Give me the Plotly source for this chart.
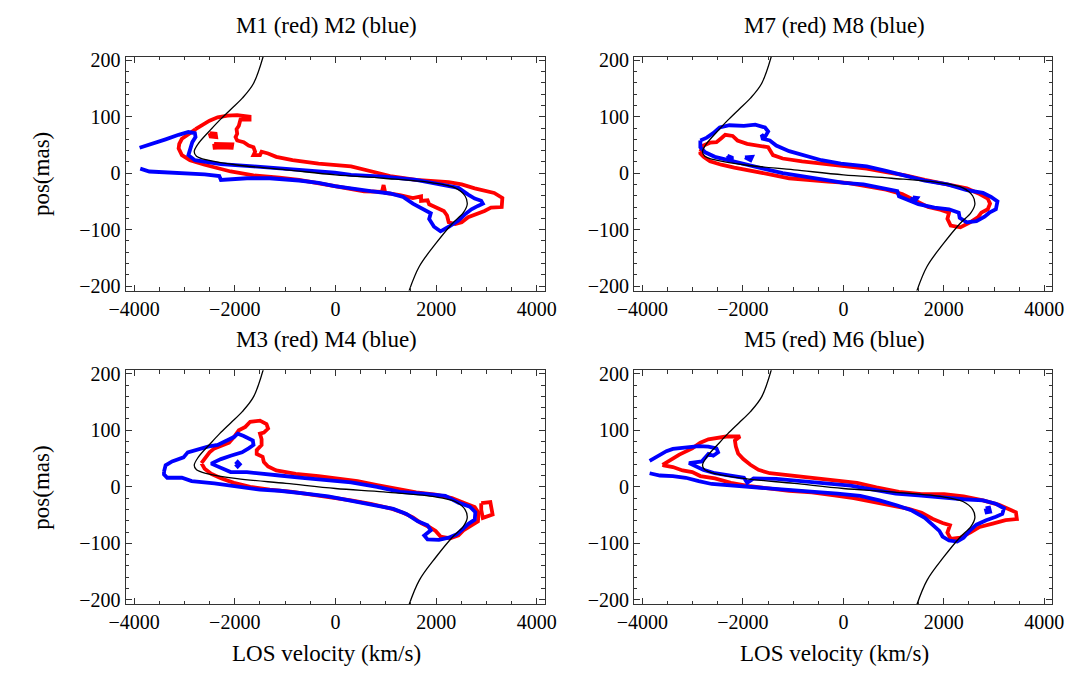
import plotly.graph_objects as go

# ---------------- model curve (black), same in every panel ----------------
curve_v = [-1435, -1628, -1850, -2081, -2300, -2468, -2727, -2805, -2760, -2533, -1952, -982,
           0, 956, 1926, 2378, 2572, 2617, 2540, 2313, 1990, 1667, 1460]
curve_pos = [207, 159, 133, 113, 94, 78, 52, 38, 30, 23, 14.5, 6,
             -3, -9, -17, -26, -40, -55, -70, -90, -125, -165, -209]

# ---------------- panel 1: M1 (red, closed) / M2 (blue, open) ----------------
m1_v = [-2779, -2662, -2501, -2339, -2145, -1952, -1706, -1706, -1887, -1919, -1964, -1952, -1984,
        -1952, -1822, -1725, -1628, -1596, -1628, -1499, -1467, -1338, -1176, -853, -336, 310, 827,
        1086, 1603, 2249, 2507, 2766, 3153, 3315, 3302, 3089, 2960, 2766, 2636, 2507, 2378, 2249,
        2216, 2152, 1990, 1861, 1829, 1700, 1700, 1538, 1279, 989, 956, 924, 569, 246, -13, -465,
        -724, -1111, -1628, -2081, -2404, -2598, -2889, -3050, -3115, -3102, -3050, -2921, -2824]
m1_pos = [78, 84, 93, 99, 102, 103, 100, 95, 95, 84, 78, 70, 64,
          58, 55, 49, 46, 38, 32, 32, 38, 35, 29, 23, 17, 12, 1,
          -5, -12, -16, -20, -27, -35, -44, -60, -61, -67, -73, -78, -87, -90, -87,
          -75, -67, -61, -55, -48, -49, -41, -44, -39, -35, -21, -33, -32, -27, -23, -16,
          -12, -8, -4, 3, 10, 15, 23, 32, 44, 52, 61, 68, 75]
m1_isl1_v = [-2500, -2380, -2370, -2480]
m1_isl1_pos = [71, 70, 64, 65]
m1_isl2_v = [-2410, -2250, -2050, -2060, -2250, -2400]
m1_isl2_pos = [52, 51, 51, 45, 46, 45]

m2_v = [-3890, -3632, -3373, -3115, -2921, -2792, -2779, -2843, -2889, -2921, -2792, -2533, -2275,
        -1628, -982, -336, -13, 310, 956, 1603, 2120, 2443, 2636, 2766, 2895, 2927, 2830, 2701,
        2572, 2443, 2249, 2087, 1958, 1861, 1893, 1732, 1538, 1344, 1086, 698, 310, -13, -336,
        -724, -1305, -1758, -2275, -2307, -2598, -3244, -3696, -3877]
m2_pos = [45, 52, 60, 68, 73, 71, 64, 55, 44, 32, 23, 20, 16,
          12, 8, 3, 1, -3, -6, -12, -20, -26, -38, -45, -49, -54, -58, -64,
          -73, -84, -95, -103, -95, -81, -71, -64, -54, -42, -36, -32, -28, -23, -17,
          -13, -9, -9, -12, -5, -2, 0, 3, 8]

# ---------------- panel 2: M7 (red) / M8 (blue) ----------------
m7_v = [-2848, -2784, -2656, -2527, -2431, -2353, -2205, -2109, -1916, -1723, -1498, -1402, -1209,
        -823, -437, 77, 463, 849, 1235, 1620, 2070, 2456, 2713, 2874, 2919, 2874, 2746, 2681,
        2521, 2328, 2135, 2070, 2103, 1942, 1685, 1427, 1170, 849, 463, 77, -309, -694, -1080,
        -1466, -1852, -2173, -2431, -2656, -2784, -2848]
m7_pos = [38, 49, 54, 55, 62, 68, 66, 58, 52, 49, 46, 32, 26,
          21, 17, 11, 8, 2, -4, -12, -20, -27, -37, -45, -54, -64, -70, -78,
          -87, -96, -93, -81, -70, -65, -60, -49, -37, -29, -23, -17, -15, -12, -9,
          -2, 4, 10, 15, 21, 29, 35]

m8_v = [-2848, -2720, -2591, -2463, -2270, -1980, -1755, -1562, -1498, -1562, -1627, -1607, -1466,
        -1337, -1080, -759, -437, -51, 463, 849, 1235, 1620, 2070, 2456, 2778, 2939, 3067, 3035,
        2906, 2810, 2649, 2456, 2315, 2296, 2103, 1813, 1492, 1299, 1106, 1074, 720, 399, 13,
        -373, -823, -1209, -1595, -1980, -2302, -2559, -2752, -2848]
m8_pos = [58, 63, 71, 81, 85, 84, 86, 81, 74, 64, 68, 61, 58,
          49, 39, 31, 23, 17, 12, 4, -4, -13, -20, -30, -35, -42, -50, -64,
          -70, -77, -85, -87, -79, -70, -64, -61, -55, -48, -41, -32, -26, -20, -17,
          -12, -5, 0, 8, 16, 23, 29, 37, 46]
m8_isl1_v = [-2310, -2200, -2260]
m8_isl1_pos = [31, 27, 24]
m8_isl2_v = [-1960, -1820, -1850]
m8_isl2_pos = [28, 29, 23]
m8_isl3_v = [1380, 1470, 1440, 1360]
m8_isl3_pos = [-43, -44, -48, -47]

# ---------------- panel 3: M3 (red) / M4 (blue) ----------------
m3_v = [-2662, -2565, -2501, -2404, -2242, -2113, -2016, -1919, -1790, -1693, -1499, -1370, -1338,
        -1422, -1499, -1467, -1467, -1564, -1564, -1447, -1422, -1338, -1176, -788, -336, 52, 439,
        827, 1215, 1603, 1990, 2313, 2572, 2766, 2843, 2830, 2701, 2540, 2443, 2281, 2087, 1990,
        1861, 1700, 1538, 1344, 1086, 698, 310, -78, -465, -853, -1305, -1693, -2016, -2275,
        -2468, -2598]
m3_pos = [42, 52, 61, 68, 73, 78, 88, 100, 106, 115, 117, 111, 103,
          96, 94, 84, 74, 65, 58, 53, 44, 36, 29, 23, 19, 15, 10,
          3, -4, -10, -14, -20, -29, -36, -46, -61, -68, -77, -86, -91, -88, -78,
          -71, -64, -54, -46, -38, -30, -24, -19, -13, -9, -5, 0, 7, 15,
          23, 32]
m3_isl_v = [2895, 3076, 3121, 2927, 2895]
m3_isl_pos = [-29, -27, -49, -55, -41]

m4_v = [-3405, -3373, -3244, -3018, -2934, -2792, -2533, -2339, -2145, -2016, -1939, -1822, -1641,
        -1628, -1725, -1855, -2081, -2275, -2468, -2307, -2081, -1758, -1499, -1111, -659, -207,
        310, 827, 1279, 1732, 2184, 2443, 2669, 2779, 2766, 2649, 2540, 2410, 2249, 2055, 1829,
        1764, 1893, 1829, 1635, 1409, 1150, 763, 310, -142, -595, -1111, -1499, -1952, -2404,
        -2856, -3050, -3341, -3405]
m4_pos = [27, 38, 45, 52, 61, 65, 71, 74, 82, 88, 94, 90, 82,
          74, 68, 61, 55, 49, 41, 34, 26, 26, 23, 20, 16, 12,
          8, 0, -9, -12, -16, -28, -35, -45, -58, -65, -73, -84, -90, -94, -93,
          -86, -77, -68, -61, -48, -39, -32, -24, -17, -12, -7, -5, 1, 6,
          10, 16, 16, 22]
m4_isl_v = [-1984, -1942, -1900, -1942]
m4_isl_pos = [40, 44, 40, 36]

# ---------------- panel 4: M5 (red) / M6 (blue, open) ----------------
m5_v = [-3601, -3427, -3266, -3009, -2848, -2688, -2495, -2334, -2173, -2058, -2160, -2141, -2096,
        -1993, -1852, -1691, -1466, -1080, -630, -180, 270, 656, 1106, 1556, 2006, 2392, 2778,
        3099, 3292, 3434, 3453, 3228, 2971, 2713, 2521, 2328, 2135, 2070, 2122, 1974, 1781,
        1556, 1299, 977, 592, 206, -180, -630, -1080, -1466, -1852, -2238, -2559, -2848, -3009,
        -3202, -3395, -3575]
m5_pos = [39, 49, 57, 68, 78, 84, 87, 89, 89, 89, 82, 71, 59,
          49, 39, 30, 24, 20, 16, 12, 7, -1, -9, -13, -13, -17, -24,
          -32, -39, -45, -57, -59, -65, -71, -81, -90, -92, -81, -68, -64, -57,
          -46, -39, -33, -27, -20, -15, -10, -7, -3, 1, 7, 15, 19, 26,
          29, 35, 38]

m6_v = [-3858, -3717, -3524, -3395, -3138, -2881, -2688, -2527, -2495, -2591, -2688, -2752, -2816,
        -3074, -2913, -2784, -2559, -2302, -1980, -1916, -1788, -1337, -823, -309, 141, 592,
        1042, 1492, 1942, 2392, 2778, 3035, 3196, 3164, 3035, 2842, 2649, 2521, 2392, 2263,
        2103, 1974, 1910, 1813, 1620, 1363, 1074, 720, 334, -116, -566, -1016, -1466, -1852,
        -2238, -2623, -2881, -3138, -3395, -3652, -3858]
m6_pos = [46, 53, 63, 67, 70, 72, 71, 68, 61, 55, 58, 52, 45,
          42, 36, 30, 24, 20, 16, 7, 15, 14, 10, 7, 2, -5,
          -12, -15, -19, -22, -24, -30, -38, -48, -53, -59, -67, -77, -90, -97,
          -95, -88, -78, -70, -55, -42, -33, -24, -16, -12, -9, -6, -3, 1,
          2, 5, 10, 16, 19, 20, 24]
m6_isl_v = [2830, 2900, 2920, 2850]
m6_isl_pos = [-38, -37, -44, -45]

titles = ["M1 (red) M2 (blue)", "M7 (red) M8 (blue)", "M3 (red) M4 (blue)", "M5 (red) M6 (blue)"]
x_ticks = [-4000, -2000, 0, 2000, 4000]
y_ticks = [-200, -100, 0, 100, 200]
x_label = "LOS velocity (km/s)"
y_label = "pos(mas)"

RED = "#ff0000"
BLUE = "#0000ff"
SERIF = "'Liberation Serif', 'Times New Roman', 'DejaVu Serif', serif"
FRAME = "#333333"


def closed(a):
    return list(a) + [a[0]]


panels = [
    dict(red=[(m1_v, m1_pos, True), (m1_isl1_v, m1_isl1_pos, True), (m1_isl2_v, m1_isl2_pos, True)],
         blue=[(m2_v, m2_pos, False)]),
    dict(red=[(m7_v, m7_pos, True)],
         blue=[(m8_v, m8_pos, True), (m8_isl1_v, m8_isl1_pos, True), (m8_isl2_v, m8_isl2_pos, True),
               (m8_isl3_v, m8_isl3_pos, True)]),
    dict(red=[(m3_v, m3_pos, True), (m3_isl_v, m3_isl_pos, True)],
         blue=[(m4_v, m4_pos, True), (m4_isl_v, m4_isl_pos, True)]),
    dict(red=[(m5_v, m5_pos, True)],
         blue=[(m6_v, m6_pos, False), (m6_isl_v, m6_isl_pos, True)]),
]

W, H = 1078, 677
xdom = [(111.5 / W, 542.5 / W), (634 / W, 1064 / W)]
ydom = [(1 - 288.5 / H, 1 - 50 / H), (1 - 609 / H, 1 - 370 / H)]
title_x = [318 / W, 840 / W]
title_y = [1 - 18 / H, 1 - 338 / H]

fig = go.Figure()
layout = dict(width=W, height=H, margin=dict(l=0, r=0, t=0, b=0), autosize=False,
              paper_bgcolor="white", plot_bgcolor="white", showlegend=False,
              font=dict(family=SERIF, color="black"))
annotations = []

for i, p in enumerate(panels):
    row, col = divmod(i, 2)
    n = "" if i == 0 else str(i + 1)
    xa, ya = "x" + n, "y" + n
    for color, key in ((RED, "red"), (BLUE, "blue")):
        for v, pos, is_closed in p[key]:
            xs = closed(v) if is_closed else list(v)
            ys = closed(pos) if is_closed else list(pos)
            fig.add_trace(go.Scatter(x=xs, y=ys, mode="lines", xaxis=xa, yaxis=ya,
                                     line=dict(color=color, width=3.8), hoverinfo="skip"))
    fig.add_trace(go.Scatter(x=curve_v, y=curve_pos, mode="lines", xaxis=xa, yaxis=ya,
                             line=dict(color="black", width=1.3, shape="spline", smoothing=1.0),
                             hoverinfo="skip"))
    common = dict(showline=True, linecolor=FRAME, linewidth=1, mirror="allticks",
                  ticks="inside", tickcolor=FRAME, showgrid=False, zeroline=False,
                  tickfont=dict(family=SERIF, size=20, color="black"))
    layout["xaxis" + n] = dict(domain=xdom[col], range=[-4170, 4160], anchor=ya,
                               tickvals=x_ticks, ticktext=[str(t).replace("-", "\u2212") for t in x_ticks],
                               ticklen=6, minor=dict(dtick=500, tick0=0, ticklen=3.5, ticks="inside",
                                                     tickcolor=FRAME, showgrid=False),
                               **common)
    layout["yaxis" + n] = dict(domain=ydom[row], range=[-208, 206], anchor=xa,
                               tickvals=y_ticks, ticktext=[str(t).replace("-", "\u2212") for t in y_ticks],
                               ticklen=6, minor=dict(dtick=20, tick0=0, ticklen=3.5, ticks="inside",
                                                     tickcolor=FRAME, showgrid=False),
                               **common)
    annotations.append(dict(text=titles[i], x=title_x[col], y=title_y[row],
                            xref="paper", yref="paper", xanchor="center", yanchor="middle",
                            showarrow=False, font=dict(family=SERIF, size=23, color="black")))
    if col == 0:
        yc = (ydom[row][0] + ydom[row][1]) / 2
        annotations.append(dict(text=y_label, x=25 / W, y=yc, xref="paper", yref="paper",
                                xanchor="center", yanchor="middle", textangle=-90, showarrow=False,
                                font=dict(family=SERIF, size=23, color="black")))
    if row == 1:
        annotations.append(dict(text=x_label, x=title_x[col], y=1 - 659 / H, xref="paper", yref="paper",
                                xanchor="center", yanchor="middle", showarrow=False,
                                font=dict(family=SERIF, size=23, color="black")))

layout["annotations"] = annotations
fig.update_layout(**layout)
fig.write_html("out.html", post_script="document.body.style.margin='0px';document.body.style.overflow='hidden';")
